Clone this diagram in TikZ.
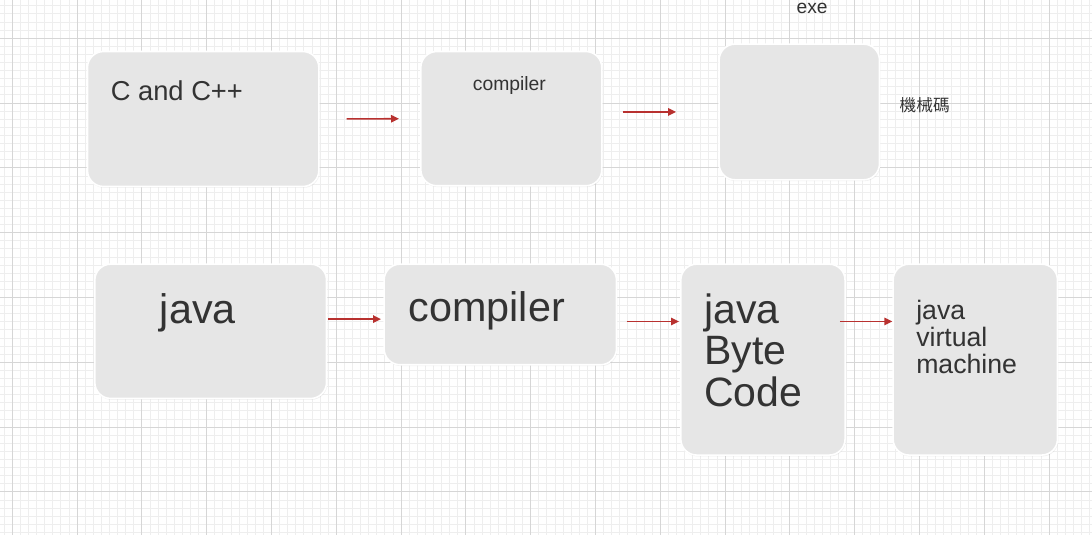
\documentclass[tikz,border=0pt]{standalone}
\usepackage{fontspec}
\setmainfont{Liberation Sans}
\newfontfamily\cjkfont{Noto Sans CJK TC}
\usetikzlibrary{arrows.meta,shadows}
\definecolor{gridminor}{HTML}{EEEEEE}
\definecolor{gridmajor}{HTML}{D6D6D6}
\definecolor{boxfill}{HTML}{E6E6E6}
\definecolor{txt}{HTML}{333333}
\definecolor{arrred}{HTML}{B8312F}
\begin{document}
\begin{tikzpicture}[x=0.75pt,y=-0.75pt,
  box/.style={rectangle, rounded corners=12pt, fill=boxfill, draw=white, line width=1.2pt,
    inner sep=0pt, anchor=north west,
    drop shadow={shadow xshift=0.6pt, shadow yshift=-1pt, opacity=0.12}},
  lbl/.style={anchor=base west, inner sep=0pt, text=txt},
  arr/.style={draw=arrred, line width=1.15pt, -{Triangle[length=6pt,width=5.6pt]}}]
\useasboundingbox (0,0) rectangle (1092,535);
\fill[white] (0,0) rectangle (1092,535);
% grid
\foreach \k in {0,...,134} \draw[gridminor, line width=0.75pt] ({4.2+8.1*\k},0) -- ({4.2+8.1*\k},535);
\foreach \k in {0,...,65} \draw[gridminor, line width=0.75pt] (0,{5.9+8.1*\k}) -- (1092,{5.9+8.1*\k});
\foreach \k in {0,...,16} \draw[gridmajor, line width=0.75pt] ({12.3+64.8*\k},0) -- ({12.3+64.8*\k},535);
\foreach \k in {0,...,7} \draw[gridmajor, line width=0.75pt] (0,{38.3+64.8*\k}) -- (1092,{38.3+64.8*\k});
% boxes row 1
\node[box, minimum width=173.5pt, minimum height=101.25pt] (cc) at (86.7,50.7) {};
\node[box, minimum width=135.75pt, minimum height=100.7pt] (comp1) at (420,50.7) {};
\node[box, minimum width=120.3pt, minimum height=101.8pt] (exe) at (718.3,43.3) {};
% boxes row 2
\node[box, minimum width=173.8pt, minimum height=100.8pt] (java) at (94,263.3) {};
\node[box, minimum width=174.3pt, minimum height=75.5pt] (comp2) at (383.3,263.3) {};
\node[box, minimum width=123.2pt, minimum height=143.25pt] (byte) at (680,263.3) {};
\node[box, minimum width=123.3pt, minimum height=143.25pt] (jvm) at (892.3,263.3) {};
% texts
\node[lbl, font=\fontsize{20.5}{24}\selectfont] (cctxt) at (110.5,100) {C and C++};
\node[lbl, font=\fontsize{14.5}{17}\selectfont] (comp1txt) at (472.6,90.7) {compiler};
\node[lbl, font=\fontsize{14.4}{17}\selectfont] (exetxt) at (796.3,14) {exe};
\node[lbl, font=\cjkfont\fontsize{12.5}{15}\selectfont] (mctxt) at (899.4,111.5) {機械碼};
\node[lbl, font=\fontsize{31}{31}\selectfont] (javatxt) at (159.6,323.3) {java};
\node[lbl, font=\fontsize{31}{31}\selectfont] (comp2txt) at (408.4,321.7) {compiler};
\node[lbl, font=\fontsize{30.75}{30.9}\selectfont] (bytetxt) at (704,323.3)
  {\begin{tabular}[t]{@{}l@{}}java\\Byte\\Code\end{tabular}};
\node[lbl, font=\fontsize{20}{19.9}\selectfont] (jvmtxt) at (916,319.3)
  {\begin{tabular}[t]{@{}l@{}}java\\virtual\\machine\end{tabular}};
% arrows
\draw[arr, shorten <=20.25pt, shorten >=15.75pt] (cc.east) -- (comp1.west);
\draw[arr, shorten <=15pt, shorten >=31.7pt] (comp1.east |- exe.west) -- (exe.west);
\draw[arr, shorten <=0.75pt, shorten >=1.7pt] ([yshift=-3.5pt]java.east |- comp2.west) -- ([yshift=-3.5pt]comp2.west);
\draw[arr, shorten <=7pt, shorten >=0.75pt] ([yshift=-5.3pt]comp2.east) -- ([yshift=-5.3pt]comp2.east -| byte.west);
\draw[arr, shorten <=-4.5pt, shorten >=0pt] ([yshift=28.6pt]byte.east) -- ([yshift=28.6pt]jvm.west);
\end{tikzpicture}
\end{document}
